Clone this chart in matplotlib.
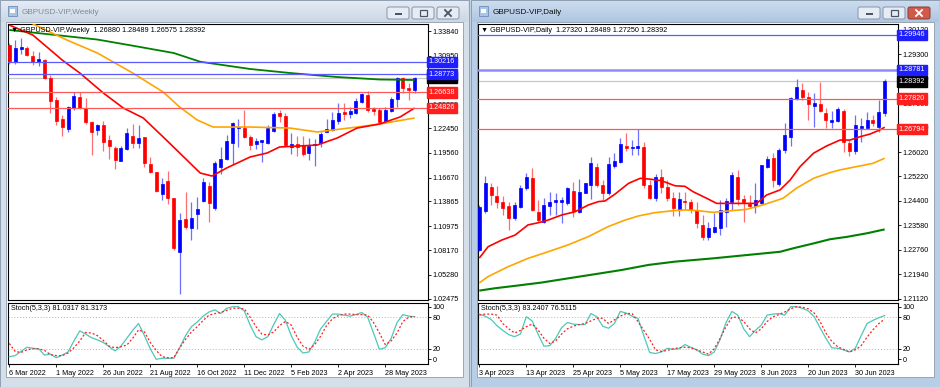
import matplotlib
matplotlib.use("Agg")
import matplotlib.pyplot as plt
from matplotlib.patches import Rectangle, FancyBboxPatch
from matplotlib.colors import LinearSegmentedColormap
import numpy as np

plt.rcParams['font.family'] = ['Liberation Sans', 'DejaVu Sans']

# ---------------- weekly data ----------------
w_labels = ['6 Mar 2022', '1 May 2022', '26 Jun 2022', '21 Aug 2022', '16 Oct 2022',
            '11 Dec 2022', '5 Feb 2023', '2 Apr 2023', '28 May 2023']
w_open = [1.3220, 1.3021, 1.3175, 1.3181, 1.3091, 1.3024, 1.3044, 1.2830, 1.2576, 1.2353,
          1.2232, 1.2478, 1.2607, 1.2485, 1.2314, 1.2224, 1.2283, 1.2107, 1.2017, 1.1864,
          1.1998, 1.2154, 1.2075, 1.2146, 1.1826, 1.1729, 1.1470, 1.1630, 1.1424, 1.0798,
          1.1181, 1.1079, 1.1236, 1.1398, 1.1571, 1.1307, 1.1794, 1.1884, 1.2068, 1.2244,
          1.2251, 1.2146, 1.2056, 1.2080, 1.2075, 1.2212, 1.2420, 1.2388, 1.2029, 1.2060,
          1.2048, 1.1951, 1.2052, 1.2075, 1.2204, 1.2224, 1.2330, 1.2431, 1.2408, 1.2427,
          1.2556, 1.2634, 1.2466, 1.2459, 1.2330, 1.2450, 1.2584, 1.2830, 1.2713, 1.26880]
w_high = [1.3244, 1.3279, 1.3298, 1.3210, 1.3150, 1.3140, 1.3060, 1.2870, 1.2610, 1.2400,
          1.2510, 1.2673, 1.2673, 1.2595, 1.2330, 1.2290, 1.2330, 1.2170, 1.2040, 1.2037,
          1.2244, 1.2295, 1.2283, 1.2146, 1.1911, 1.1736, 1.1658, 1.1744, 1.1424, 1.1248,
          1.1501, 1.1384, 1.1443, 1.1661, 1.1618, 1.1857, 1.2029, 1.2165, 1.2322, 1.2349,
          1.2458, 1.2160, 1.2130, 1.2110, 1.2283, 1.2439, 1.2459, 1.2427, 1.2193, 1.2150,
          1.2154, 1.2134, 1.2115, 1.2200, 1.2349, 1.2439, 1.2537, 1.2544, 1.2490, 1.2595,
          1.2661, 1.2685, 1.2490, 1.2482, 1.2490, 1.2610, 1.2849, 1.2849, 1.2771, 1.28489]
w_low = [1.3000, 1.3000, 1.3115, 1.3090, 1.2980, 1.2970, 1.2820, 1.2423, 1.2283, 1.2154,
         1.2205, 1.2455, 1.2470, 1.2300, 1.1931, 1.2170, 1.1978, 1.1884, 1.1764, 1.1860,
         1.1990, 1.2009, 1.2009, 1.1786, 1.1717, 1.1494, 1.1404, 1.1357, 1.0823, 1.0303,
         1.1070, 1.0935, 1.1060, 1.1380, 1.1150, 1.1282, 1.1708, 1.1870, 1.1822, 1.2028,
         1.2127, 1.1990, 1.2000, 1.1853, 1.2060, 1.2200, 1.2322, 1.2040, 1.1939, 1.1920,
         1.1923, 1.1872, 1.1802, 1.2030, 1.2195, 1.2210, 1.2300, 1.2341, 1.2370, 1.2410,
         1.2540, 1.2439, 1.2400, 1.2310, 1.2310, 1.2440, 1.2490, 1.2660, 1.2576, 1.26575]
w_close = [1.3036, 1.3185, 1.3195, 1.3103, 1.3025, 1.3056, 1.2830, 1.2562, 1.2330, 1.2256,
           1.2497, 1.2626, 1.2485, 1.2314, 1.2204, 1.2279, 1.2087, 1.2037, 1.1873, 1.2017,
           1.2185, 1.2075, 1.2134, 1.1834, 1.1736, 1.1513, 1.1591, 1.1424, 1.0845, 1.1170,
           1.1084, 1.1189, 1.1295, 1.1618, 1.1372, 1.1834, 1.1884, 1.2095, 1.2310, 1.2263,
           1.2146, 1.2048, 1.2099, 1.2107, 1.2244, 1.2408, 1.2388, 1.2048, 1.2056, 1.2029,
           1.1939, 1.2037, 1.2060, 1.2177, 1.2232, 1.2341, 1.2427, 1.2408, 1.2447, 1.2564,
           1.2642, 1.2458, 1.2450, 1.2321, 1.2459, 1.2584, 1.2830, 1.2713, 1.2693, 1.28392]

# moving averages (bar position, price)
w_red_x = [0, 4, 6.4, 9, 12, 16, 19.4, 22.8, 26.2, 29, 32.5, 34.5, 37, 41, 43.9, 46,
           52.4, 55.8, 59.2, 63, 66.5, 69]
w_red = [1.3454, 1.3337, 1.3197, 1.3044, 1.2892, 1.2658, 1.2482, 1.2365, 1.2142, 1.1955,
         1.1720, 1.1685, 1.1779, 1.1908, 1.1955, 1.2025, 1.2048, 1.2130, 1.2247, 1.2294,
         1.2376, 1.2482]
w_org_x = [0, 4.4, 9.8, 15, 21, 26.2, 29, 32, 34.7, 41, 47.8, 52.4, 59.2, 63, 69]
w_org = [1.3620, 1.3454, 1.3279, 1.3126, 1.2892, 1.2669, 1.2493, 1.2341, 1.2259, 1.2259,
         1.2247, 1.2201, 1.2259, 1.2294, 1.2365]
w_grn_x = [0, 15, 22, 28, 32.5, 41, 47.8, 55.8, 63, 69]
w_grn = [1.3396, 1.3284, 1.3200, 1.3126, 1.3024, 1.2939, 1.2892, 1.2845, 1.2816, 1.2810]

w_stoch_main = [5, 7, 15, 23, 21, 20, 8, 10, 3, 8, 14, 35, 54, 48, 41, 37, 32, 24, 16, 25,
                40, 55, 68, 45, 20, 0, 2, 2, 2, 22, 45, 62, 71, 82, 90, 94, 87, 97, 100, 100,
                92, 65, 43, 37, 43, 66, 87, 74, 45, 23, 12, 14, 33, 58, 72, 86, 86, 84, 82, 85,
                89, 80, 50, 19, 22, 40, 70, 85, 82, 81.03]
w_stoch_sig = [30, 15, 13, 18, 20, 20, 17, 9, 7, 7, 12, 22, 35, 51, 50, 45, 36, 25, 22, 24,
               27, 40, 56, 52, 32, 17, 5, 3, 3, 22, 38, 52, 62, 74, 84, 87, 89, 93, 97, 97,
               96, 80, 62, 48, 46, 52, 64, 72, 65, 42, 25, 19, 28, 44, 64, 77, 83, 86, 86, 85,
               85, 84, 70, 50, 28, 35, 50, 72, 80, 81.32]
w_ticks = [1.33840, 1.30950, 1.28145, 1.25255, 1.22450, 1.19560, 1.16670, 1.13865,
           1.10975, 1.08170, 1.05280, 1.02475]
w_blue_levels = [1.30216, 1.28773]
w_red_levels = [1.26638, 1.24826]

# ---------------- daily data ----------------
d_labels = ['3 Apr 2023', '13 Apr 2023', '25 Apr 2023', '5 May 2023', '17 May 2023',
            '29 May 2023', '8 Jun 2023', '20 Jun 2023', '30 Jun 2023']
d_open = [1.2275, 1.2407, 1.2487, 1.2456, 1.2437, 1.2422, 1.2381, 1.2420, 1.2481, 1.2517,
          1.2403, 1.2370, 1.2422, 1.2437, 1.2435, 1.2433, 1.2473, 1.2403, 1.2467, 1.2493,
          1.2554, 1.2493, 1.2465, 1.2556, 1.2571, 1.2623, 1.2615, 1.2618, 1.2621, 1.2491,
          1.2448, 1.2520, 1.2485, 1.2450, 1.2409, 1.2440, 1.2437, 1.2409, 1.2359, 1.2320,
          1.2336, 1.2348, 1.2403, 1.2437, 1.2520, 1.2445, 1.2428, 1.2422, 1.2431, 1.2552,
          1.2582, 1.2496, 1.2610, 1.2654, 1.2779, 1.2811, 1.2786, 1.2758, 1.2763, 1.2735,
          1.2704, 1.2707, 1.2741, 1.2634, 1.2607, 1.2684, 1.2682, 1.2710, 1.2686, 1.27320]
d_high = [1.2424, 1.2523, 1.2500, 1.2490, 1.2455, 1.2437, 1.2437, 1.2492, 1.2534, 1.2548,
          1.2442, 1.2449, 1.2470, 1.2465, 1.2453, 1.2487, 1.2504, 1.2513, 1.2498, 1.2585,
          1.2565, 1.2509, 1.2587, 1.2599, 1.2651, 1.2666, 1.2643, 1.2679, 1.2636, 1.2510,
          1.2530, 1.2545, 1.2510, 1.2470, 1.2470, 1.2470, 1.2445, 1.2435, 1.2392, 1.2370,
          1.2399, 1.2442, 1.2449, 1.2537, 1.2543, 1.2459, 1.2459, 1.2498, 1.2560, 1.2590,
          1.2599, 1.2617, 1.2699, 1.2788, 1.2846, 1.2835, 1.2805, 1.2799, 1.2838, 1.2749,
          1.2740, 1.2752, 1.2746, 1.2644, 1.2727, 1.2716, 1.2738, 1.2727, 1.2777, 1.28489]
d_low = [1.2270, 1.2398, 1.2426, 1.2417, 1.2392, 1.2342, 1.2376, 1.2415, 1.2475, 1.2406,
         1.2370, 1.2365, 1.2392, 1.2392, 1.2364, 1.2426, 1.2387, 1.2400, 1.2465, 1.2447,
         1.2487, 1.2442, 1.2459, 1.2548, 1.2565, 1.2607, 1.2593, 1.2593, 1.2483, 1.2445,
         1.2440, 1.2465, 1.2440, 1.2390, 1.2390, 1.2409, 1.2398, 1.2350, 1.2308, 1.2310,
         1.2332, 1.2325, 1.2353, 1.2409, 1.2426, 1.2370, 1.2420, 1.2398, 1.2428, 1.2548,
         1.2487, 1.2490, 1.2599, 1.2623, 1.2777, 1.2777, 1.2710, 1.2686, 1.2738, 1.2682,
         1.2682, 1.2704, 1.2604, 1.2590, 1.2596, 1.2637, 1.2680, 1.2690, 1.2671, 1.27250]
d_close = [1.2420, 1.2498, 1.2459, 1.2437, 1.2415, 1.2381, 1.2426, 1.2481, 1.2520, 1.2409,
           1.2375, 1.2424, 1.2436, 1.2442, 1.2442, 1.2484, 1.2407, 1.2470, 1.2498, 1.2565,
           1.2493, 1.2465, 1.2562, 1.2574, 1.2629, 1.2615, 1.2621, 1.2623, 1.2491, 1.2448,
           1.2520, 1.2485, 1.2450, 1.2415, 1.2445, 1.2435, 1.2409, 1.2364, 1.2320, 1.2348,
           1.2353, 1.2409, 1.2439, 1.2526, 1.2445, 1.2437, 1.2422, 1.2442, 1.2560, 1.2579,
           1.2509, 1.2610, 1.2660, 1.2783, 1.2820, 1.2788, 1.2763, 1.2766, 1.2741, 1.2710,
           1.2710, 1.2746, 1.2637, 1.2607, 1.2693, 1.2690, 1.2710, 1.2701, 1.2738, 1.28392]

d_red_x = [0, 1.5, 3.8, 6.1, 8.3, 10, 11.7, 14, 16.3, 18.6, 20.3, 21.4, 23.1, 25.4, 27.4,
           29.1, 31, 33.3, 35, 36.4, 38.7, 40.4, 42.1, 47.2, 48.9, 51.2, 52.9, 54.6, 56.9,
           59.1, 61.4, 63.1, 64.8, 66.5, 68.2, 69]
d_red = [1.2248, 1.2286, 1.2308, 1.2325, 1.2359, 1.2366, 1.2375, 1.2392, 1.2403, 1.2426,
         1.2437, 1.2439, 1.2462, 1.2498, 1.2515, 1.2512, 1.2507, 1.2490, 1.2488, 1.2470,
         1.2448, 1.2431, 1.2431, 1.2431, 1.2459, 1.2476, 1.2509, 1.2554, 1.2599, 1.2623,
         1.2643, 1.2643, 1.2654, 1.2663, 1.2677, 1.2686]
d_org_x = [0, 1.5, 4.9, 8.3, 11.7, 15.1, 18.6, 21.9, 24.8, 27.1, 29.9, 33.3, 35, 37, 39.8,
           42.6, 45.5, 48.3, 51.7, 54, 56.9, 59.7, 61.4, 64.2, 67, 69]
d_org = [1.2165, 1.2186, 1.2219, 1.2247, 1.2269, 1.2292, 1.2320, 1.2353, 1.2375, 1.2389,
         1.2400, 1.2407, 1.2409, 1.2407, 1.2401, 1.2406, 1.2411, 1.2426, 1.2448, 1.2482,
         1.2515, 1.2534, 1.2543, 1.2554, 1.2565, 1.2582]
d_grn_x = [0, 2.7, 6.1, 10.6, 15.1, 19.7, 24.2, 28.8, 33.3, 39.8, 45.5, 51.2, 53.5, 56.9,
           59.7, 62.6, 66, 69]
d_grn = [1.2139, 1.2147, 1.2155, 1.2166, 1.2180, 1.2194, 1.2208, 1.2225, 1.2236, 1.2247,
         1.2258, 1.2269, 1.2281, 1.2297, 1.2311, 1.2319, 1.2331, 1.2344]

d_stoch_main = [86, 82, 76, 64, 55, 47, 43, 48, 81, 73, 48, 25, 26, 40, 60, 70, 67, 66, 66, 87,
                81, 63, 59, 68, 91, 88, 82, 78, 45, 13, 11, 14, 21, 19, 20, 28, 23, 18, 10, 7,
                14, 38, 70, 91, 84, 58, 43, 55, 65, 84, 86, 87, 84, 100, 100, 97, 92, 81, 60, 40,
                22, 21, 18, 14, 21, 45, 68, 74, 79, 83.24]
d_stoch_sig = [84, 86, 86, 84, 68, 58, 50, 55, 62, 67, 56, 40, 30, 35, 48, 58, 63, 66, 68, 73,
               78, 78, 68, 75, 82, 87, 87, 72, 55, 38, 18, 15, 17, 20, 22, 23, 22, 18, 14, 10,
               20, 40, 62, 80, 80, 72, 58, 50, 58, 72, 81, 85, 90, 96, 100, 99, 96, 88, 72, 50,
               34, 24, 19, 14, 18, 26, 42, 56, 68, 76.51]
d_ticks = [1.30120, 1.29300, 1.28480, 1.27660, 1.26840, 1.26020, 1.25220, 1.24400,
           1.23580, 1.22760, 1.21940, 1.21120]
d_blue_levels = [1.29946, 1.28781]
d_red_levels = [1.27820, 1.26794]

last_price = 1.28392

FS = 5.2
W, H = 940, 387


def box(x0, y0, x1, y1):
    return [x0 / W, 1 - y1 / H, (x1 - x0) / W, (y1 - y0) / H]


fig = plt.figure(figsize=(9.4, 3.87), dpi=100)
fig.patch.set_facecolor('#C3D2E3')

# ---------------- window chrome ----------------
bg = fig.add_axes([0, 0, 1, 1], zorder=-10)
bg.set_xlim(0, W)
bg.set_ylim(H, 0)
bg.axis('off')


def window(x0, x1, frame, top, bottom, title, title_color, active):
    bg.add_patch(Rectangle((x0, 0), x1 - x0, H, fc=frame, ec='#8696AA', lw=0.6))
    cmap = LinearSegmentedColormap.from_list('t', [top, bottom])
    bg.imshow(np.linspace(0, 1, 20)[:, None], extent=(x0 + 1, x1 - 1, 22, 1), cmap=cmap,
              aspect='auto', zorder=1)
    bg.add_patch(Rectangle((x0 + 6, 22), x1 - x0 - 12, 355, fc='white', ec='#8E9BAA',
                           lw=0.6, zorder=2))
    # icon
    bg.add_patch(Rectangle((x0 + 8, 6), 9, 10, fc='#A9C4E4', ec='#6D8DB8', lw=0.6, zorder=3))
    bg.add_patch(Rectangle((x0 + 10, 9), 5, 4, fc='white', ec='none', zorder=3))
    bg.text(x0 + 22, 12, title, fontsize=5.9, color=title_color, va='center', ha='left',
            zorder=3)
    # buttons
    bx = [x1 - 82, x1 - 57, x1 - 32]
    for j, b in enumerate(bx):
        red = active and j == 2
        bg.add_patch(FancyBboxPatch((b, 7), 22, 12, boxstyle='round,pad=0,rounding_size=2',
                                    fc='#D35A4A' if red else '#E6ECF4',
                                    ec='#8A3A32' if red else '#8894A8', lw=0.7, zorder=3))
        gc = 'white' if red else '#4A5568'
        if j == 0:
            bg.add_patch(Rectangle((b + 7.5, 13), 7, 2, fc=gc, ec='none', zorder=4))
        elif j == 1:
            bg.add_patch(Rectangle((b + 7.5, 9.5), 7, 6.5, fc='none', ec=gc, lw=0.9, zorder=4))
        else:
            bg.plot([b + 8, b + 14], [10, 16], color=gc, lw=1.3, zorder=4)
            bg.plot([b + 8, b + 14], [16, 10], color=gc, lw=1.3, zorder=4)


window(0, 469, '#D5DFEA', '#E4EBF4', '#CBD7E5', 'GBPUSD-VIP,Weekly', '#7F8C9A', False)
window(471, 940, '#B8CDE6', '#CCDCEE', '#AFC6E2', 'GBPUSD-VIP,Daily', '#101010', True)


# ---------------- helpers ----------------
def candles(ax, o, h, l, c):
    o, h, l, c = map(np.asarray, (o, h, l, c))
    idx = np.arange(len(o))
    up = c >= o
    ax.vlines(idx, l, h, colors=np.where(up, '#6E6EFF', '#FF6E6E'), lw=0.9, zorder=2)
    ax.bar(idx, np.abs(c - o), bottom=np.minimum(o, c), width=0.5,
           color=np.where(up, '#0000FF', '#FF0000'),
           edgecolor=np.where(up, '#0000FF', '#FF0000'), lw=0.5, zorder=3)


def tag(ax, price, fc, z):
    ax.text(1.002, price, f'{price:.5f}', transform=ax.get_yaxis_transform(), va='center',
            ha='left', fontsize=FS, color='white', clip_on=False, zorder=z,
            bbox=dict(boxstyle='square,pad=0.22', fc=fc, ec=fc))


def price_panel(ax, o, h, l, c, ma, ticks, ylim, blues, reds, header, blue_lw):
    candles(ax, o, h, l, c)
    for (mx, my, col, lw) in ma:
        ax.plot(mx, my, color=col, lw=lw, zorder=4, solid_capstyle='butt')
    ax.axhline(last_price, color='#C8C8C8', lw=0.9, zorder=1)
    for p, lw in zip(blues, blue_lw):
        ax.axhline(p, color='#5A5AFF' if lw < 1.5 else '#8C8CFF', lw=lw, zorder=5)
    for p in reds:
        ax.axhline(p, color='#FF5A5A', lw=0.9, zorder=5)
    tag(ax, last_price, '#000000', 6)
    for p in blues:
        tag(ax, p, '#1E1EFF', 7)
    for p in reds:
        tag(ax, p, '#FF1E1E', 7)
    ax.set_xlim(-0.22, 71.27)
    ax.set_ylim(*ylim)
    ax.set_xticks([])
    ax.yaxis.tick_right()
    ax.set_yticks(ticks)
    ax.set_yticklabels([f'{t:.5f}' for t in ticks])
    ax.tick_params(axis='y', labelsize=FS, length=2, width=0.6, pad=1.5)
    ax.text(0.008, 0.978, '▼ ' + header, transform=ax.transAxes, fontsize=FS, va='center',
            ha='left', zorder=8)
    for s in ax.spines.values():
        s.set_linewidth(0.8)


def stoch_panel(ax, main, sig, labels, header):
    idx = np.arange(len(main))
    ax.axhline(80, color='#B4B4B4', lw=0.7, ls=(0, (1, 2)))
    ax.axhline(20, color='#B4B4B4', lw=0.7, ls=(0, (1, 2)))
    ax.plot(idx, main, color='#4CC8B8', lw=0.9, zorder=3)
    ax.plot(idx, sig, color='#FF2020', lw=0.9, ls=(0, (1.6, 1.6)), zorder=3)
    ax.set_xlim(-0.22, 71.27)
    ax.set_ylim(-8.9, 108)
    ax.yaxis.tick_right()
    ax.set_yticks([100, 80, 20, 0])
    ax.set_yticklabels(['100', '80', '20', '0'])
    ax.tick_params(axis='y', labelsize=FS, length=2, width=0.6, pad=1.5)
    ax.set_xticks(np.arange(0, 8 * len(labels), 8))
    ax.set_xticklabels(labels)
    ax.tick_params(axis='x', labelsize=FS, length=2.5, width=0.6, pad=1.5)
    for lab in ax.get_xticklabels():
        lab.set_ha('left')
    ax.text(0.008, 0.91, header, transform=ax.transAxes, fontsize=FS, va='center', ha='left')
    for s in ax.spines.values():
        s.set_linewidth(0.8)


# ---------------- weekly window ----------------
w_ax = fig.add_axes(box(8, 24, 428, 300))
price_panel(w_ax, w_open, w_high, w_low, w_close,
            [(w_grn_x, w_grn, '#008000', 1.3), (w_org_x, w_org, '#FFA500', 1.2),
             (w_red_x, w_red, '#FF0000', 1.2)],
            w_ticks, (1.02323, 1.34662), w_blue_levels, w_red_levels,
            'GBPUSD-VIP,Weekly  1.26880 1.28489 1.26575 1.28392', [0.9, 0.9])
w_st = fig.add_axes(box(8, 302.5, 428, 364))
stoch_panel(w_st, w_stoch_main, w_stoch_sig, w_labels, 'Stoch(5,3,3) 81.0317 81.3173')

# ---------------- daily window ----------------
d_ax = fig.add_axes(box(478, 24, 898, 300))
price_panel(d_ax, d_open, d_high, d_low, d_close,
            [(d_grn_x, d_grn, '#008000', 1.5), (d_org_x, d_org, '#FFA500', 1.2),
             (d_red_x, d_red, '#FF0000', 1.2)],
            d_ticks, (1.21076, 1.30314), d_blue_levels, d_red_levels,
            'GBPUSD-VIP,Daily  1.27320 1.28489 1.27250 1.28392', [0.9, 1.8])
d_st = fig.add_axes(box(478, 302.5, 898, 364))
stoch_panel(d_st, d_stoch_main, d_stoch_sig, d_labels, 'Stoch(5,3,3) 83.2407 76.5115')

fig.savefig('out.png', dpi=100)
